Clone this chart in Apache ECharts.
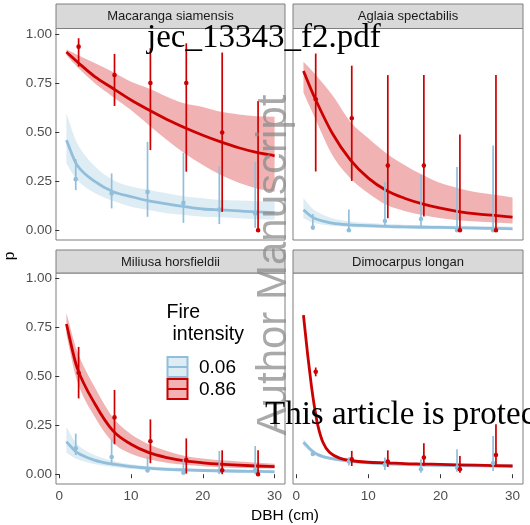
<!DOCTYPE html>
<html>
<head>
<meta charset="utf-8">
<script src="https://cdn.jsdelivr.net/npm/echarts@6/dist/echarts.min.js"></script>
<style>
  html, body { margin: 0; padding: 0; background: #fff; }
  #chart { width: 530px; height: 525px; }
</style>
</head>
<body>
<div id="chart"></div>
<script>
// facets and fire-intensity levels
const SPECIES = ["Macaranga siamensis", "Aglaia spectabilis", "Miliusa horsfieldii", "Dimocarpus longan"];
const LEVELS = ["0.06", "0.86"];

// DBH values where the fitted curves were read
const XS = [1, 2.5, 5, 7.5, 10, 12.5, 15, 17.5, 20, 22.5, 25, 27.5, 30];
const XS_DL = [1, 1.6, 2.1, 2.5, 3, 3.7, 4.6, 6, 7.5, 10, 12.5, 15, 17.5, 20, 22.5, 25, 27.5, 30];
// binned observations (dodged left for 0.06, right for 0.86)
const X_LOW = [2.3, 7.3, 12.3, 17.3, 22.3, 27.3];
const X_HIGH = [2.7, 7.7, 12.7, 17.7, 22.7, 27.7];

// Macaranga siamensis
const MS_LOW_FIT = [0.459, 0.331, 0.247, 0.196, 0.171, 0.149, 0.134, 0.12, 0.108, 0.103, 0.098, 0.093, 0.089];
const MS_LOW_UP = [0.595, 0.443, 0.324, 0.256, 0.222, 0.205, 0.188, 0.171, 0.163, 0.154, 0.151, 0.148, 0.146];
const MS_LOW_LO = [0.34, 0.256, 0.188, 0.149, 0.12, 0.103, 0.086, 0.078, 0.069, 0.066, 0.061, 0.056, 0.053];
const MS_HIGH_FIT = [0.908, 0.858, 0.781, 0.722, 0.663, 0.612, 0.564, 0.522, 0.484, 0.45, 0.42, 0.396, 0.379];
const MS_HIGH_UP = [0.92, 0.894, 0.85, 0.806, 0.756, 0.722, 0.68, 0.645, 0.628, 0.603, 0.59, 0.581, 0.578];
const MS_HIGH_LO = [0.891, 0.832, 0.747, 0.679, 0.612, 0.535, 0.459, 0.391, 0.332, 0.281, 0.242, 0.213, 0.196];
const MS_LOW_P = [0.26, 0.187, 0.195, 0.139, 0.105, 0.085];
const MS_LOW_PLO = [0.204, 0.111, 0.068, 0.037, 0.031, 0.012];
const MS_LOW_PHI = [0.362, 0.289, 0.45, 0.394, 0.327, 0.348];
const MS_HIGH_P = [0.935, 0.79, 0.75, 0.75, 0.498, 0];
const MS_HIGH_PLO = [0.833, 0.633, 0.408, 0.298, 0.093, 0];
const MS_HIGH_PHI = [0.978, 0.898, 0.927, 0.952, 0.905, 0.658];

// Aglaia spectabilis
const AS_LOW_FIT = [0.103, 0.061, 0.036, 0.027, 0.023, 0.019, 0.017, 0.015, 0.014, 0.012, 0.01, 0.009, 0.007];
const AS_LOW_UP = [0.163, 0.103, 0.061, 0.044, 0.036, 0.031, 0.028, 0.026, 0.024, 0.022, 0.021, 0.02, 0.019];
const AS_LOW_LO = [0.061, 0.036, 0.022, 0.015, 0.012, 0.01, 0.008, 0.007, 0.006, 0.005, 0.004, 0.003, 0.002];
const AS_HIGH_FIT = [0.811, 0.68, 0.494, 0.358, 0.265, 0.202, 0.163, 0.134, 0.112, 0.095, 0.083, 0.075, 0.066];
const AS_HIGH_UP = [0.858, 0.8, 0.689, 0.553, 0.468, 0.392, 0.332, 0.282, 0.24, 0.214, 0.193, 0.18, 0.166];
const AS_HIGH_LO = [0.702, 0.579, 0.383, 0.265, 0.188, 0.129, 0.098, 0.078, 0.061, 0.051, 0.044, 0.039, 0.034];
const AS_LOW_P = [0.014, 0, 0.047, 0.057, 0, 0];
const AS_LOW_PLO = [0.002, 0, 0.027, 0.018, 0, 0];
const AS_LOW_PHI = [0.082, 0.105, 0.244, 0.282, 0.322, 0.431];
const AS_HIGH_P = [0.667, 0.57, 0.329, 0.329, 0, 0];
const AS_HIGH_PLO = [0.299, 0.251, 0.061, 0.07, 0, 0];
const AS_HIGH_PHI = [0.9, 0.838, 0.79, 0.79, 0.488, 0.79];

// Miliusa horsfieldii
const MH_LOW_FIT = [0.166, 0.11, 0.071, 0.051, 0.039, 0.031, 0.025, 0.022, 0.019, 0.017, 0.015, 0.014, 0.012];
const MH_LOW_UP = [0.241, 0.153, 0.097, 0.068, 0.051, 0.041, 0.035, 0.031, 0.028, 0.026, 0.024, 0.022, 0.02];
const MH_LOW_LO = [0.11, 0.076, 0.051, 0.037, 0.027, 0.022, 0.017, 0.014, 0.012, 0.01, 0.009, 0.008, 0.007];
const MH_HIGH_FIT = [0.767, 0.543, 0.357, 0.221, 0.153, 0.11, 0.085, 0.068, 0.058, 0.051, 0.046, 0.042, 0.039];
const MH_HIGH_UP = [0.823, 0.628, 0.441, 0.289, 0.204, 0.153, 0.119, 0.093, 0.08, 0.071, 0.065, 0.059, 0.054];
const MH_HIGH_LO = [0.713, 0.475, 0.289, 0.161, 0.105, 0.076, 0.059, 0.048, 0.041, 0.036, 0.032, 0.031, 0.029];
const MH_LOW_P = [0.132, 0.088, 0.02, 0.008, 0.017, 0.02];
const MH_LOW_PLO = [0.098, 0.051, 0.008, 0, 0, 0];
const MH_LOW_PHI = [0.207, 0.178, 0.09, 0.076, 0.119, 0.144];
const MH_HIGH_P = [0.518, 0.29, 0.168, 0.073, 0.02, 0];
const MH_HIGH_PLO = [0.387, 0.153, 0.056, 0.003, 0, 0];
const MH_HIGH_PHI = [0.65, 0.43, 0.28, 0.183, 0.122, 0.122];

// Dimocarpus longan
const DL_LOW_FIT = [0.163, 0.14, 0.122, 0.11, 0.1, 0.09, 0.082, 0.073, 0.066, 0.058, 0.053, 0.05, 0.047, 0.045, 0.044, 0.043, 0.042, 0.042];
const DL_LOW_UP = [0.18, 0.154, 0.134, 0.121, 0.11, 0.099, 0.09, 0.08, 0.072, 0.063, 0.058, 0.055, 0.052, 0.05, 0.049, 0.048, 0.047, 0.047];
const DL_LOW_LO = [0.146, 0.126, 0.11, 0.1, 0.09, 0.081, 0.074, 0.066, 0.06, 0.053, 0.048, 0.045, 0.042, 0.04, 0.039, 0.038, 0.037, 0.037];
const DL_HIGH_FIT = [0.812, 0.605, 0.452, 0.35, 0.248, 0.163, 0.112, 0.082, 0.07, 0.061, 0.058, 0.054, 0.052, 0.05, 0.048, 0.046, 0.044, 0.042];
const DL_HIGH_UP = [0.83, 0.625, 0.47, 0.368, 0.263, 0.175, 0.121, 0.089, 0.076, 0.066, 0.062, 0.058, 0.056, 0.054, 0.052, 0.05, 0.048, 0.046];
const DL_HIGH_LO = [0.794, 0.585, 0.434, 0.333, 0.234, 0.152, 0.104, 0.076, 0.065, 0.056, 0.054, 0.05, 0.048, 0.046, 0.044, 0.042, 0.04, 0.038];
const DL_LOW_P = [0.103, 0.065, 0.048, 0.025, 0.034, 0.056];
const DL_LOW_PLO = [0.095, 0.045, 0.022, 0.008, 0.012, 0.017];
const DL_LOW_PHI = [0.112, 0.087, 0.085, 0.076, 0.127, 0.195];
const DL_HIGH_P = [0.523, 0.076, 0.065, 0.085, 0.025, 0.098];
const DL_HIGH_PLO = [0.5, 0.042, 0.037, 0.042, 0.008, 0.042];
const DL_HIGH_PHI = [0.545, 0.119, 0.122, 0.158, 0.093, 0.255];

const X_TICKS = [0, 10, 20, 30];
const Y_TICKS = [0, 0.25, 0.5, 0.75, 1];

const COL = { low: "#91bfdb", high: "#cc0000" };
const FILL = { low: "rgba(145,191,219,0.3)", high: "rgba(204,0,0,0.3)" };
const SANS = '"Liberation Sans", Arial, sans-serif';
const SERIF = '"Liberation Serif", "Times New Roman", serif';
const BORDER = "#7f7f7f";

const panels = [
  { xs: XS,
    low: { fit: MS_LOW_FIT, up: MS_LOW_UP, lo: MS_LOW_LO, p: MS_LOW_P, plo: MS_LOW_PLO, phi: MS_LOW_PHI },
    high: { fit: MS_HIGH_FIT, up: MS_HIGH_UP, lo: MS_HIGH_LO, p: MS_HIGH_P, plo: MS_HIGH_PLO, phi: MS_HIGH_PHI } },
  { xs: XS,
    low: { fit: AS_LOW_FIT, up: AS_LOW_UP, lo: AS_LOW_LO, p: AS_LOW_P, plo: AS_LOW_PLO, phi: AS_LOW_PHI },
    high: { fit: AS_HIGH_FIT, up: AS_HIGH_UP, lo: AS_HIGH_LO, p: AS_HIGH_P, plo: AS_HIGH_PLO, phi: AS_HIGH_PHI } },
  { xs: XS,
    low: { fit: MH_LOW_FIT, up: MH_LOW_UP, lo: MH_LOW_LO, p: MH_LOW_P, plo: MH_LOW_PLO, phi: MH_LOW_PHI },
    high: { fit: MH_HIGH_FIT, up: MH_HIGH_UP, lo: MH_HIGH_LO, p: MH_HIGH_P, plo: MH_HIGH_PLO, phi: MH_HIGH_PHI } },
  { xs: XS_DL,
    low: { fit: DL_LOW_FIT, up: DL_LOW_UP, lo: DL_LOW_LO, p: DL_LOW_P, plo: DL_LOW_PLO, phi: DL_LOW_PHI },
    high: { fit: DL_HIGH_FIT, up: DL_HIGH_UP, lo: DL_HIGH_LO, p: DL_HIGH_P, plo: DL_HIGH_PLO, phi: DL_HIGH_PHI } },
];

// panel boxes (pixels)
const GRIDS = [
  { left: 56, top: 28.5, width: 229, height: 211.5 },
  { left: 293, top: 28.5, width: 230, height: 211.5 },
  { left: 56, top: 273, width: 229, height: 211 },
  { left: 293, top: 273, width: 230, height: 211 },
];
const STRIP_TOP = [4, 4, 250, 250];

// cubic hermite through the read points, in pixel space
function hermite(pts, first) {
  const n = pts.length;
  const m = pts.map((_, k) => {
    const a = pts[Math.max(0, k - 1)], b = pts[Math.min(n - 1, k + 1)];
    return (b[1] - a[1]) / (b[0] - a[0]);
  });
  let d = (first ? "M" : "L") + pts[0][0] + " " + pts[0][1];
  for (let k = 0; k < n - 1; k++) {
    const h = pts[k + 1][0] - pts[k][0];
    d += " C" + (pts[k][0] + h / 3) + " " + (pts[k][1] + m[k] * h / 3) + " " +
      (pts[k + 1][0] - h / 3) + " " + (pts[k + 1][1] - m[k + 1] * h / 3) + " " +
      pts[k + 1][0] + " " + pts[k + 1][1];
  }
  return d;
}

function curveSeries(i, xs, g, key, kind) {
  return {
    type: "custom", xAxisIndex: i, yAxisIndex: i, silent: true,
    data: xs.map((x, k) => [x, g.fit[k]]),
    encode: { x: 0, y: 1 },
    renderItem(params, api) {
      if (params.dataIndex !== 0) return null;
      if (kind === "ribbon") {
        const up = xs.map((x, k) => api.coord([x, g.up[k]]));
        const lo = xs.map((x, k) => api.coord([x, g.lo[k]])).reverse();
        return { type: "path", shape: { pathData: hermite(up, true) + " " + hermite(lo, false) + " Z" },
          style: { fill: FILL[key], stroke: null } };
      }
      const pts = xs.map((x, k) => api.coord([x, g.fit[k]]));
      return { type: "path", shape: { pathData: hermite(pts, true) },
        style: { fill: null, stroke: COL[key], lineWidth: 2.8 } };
    },
  };
}

function rangeSeries(i, xs, g, key) {
  return {
    type: "custom", xAxisIndex: i, yAxisIndex: i, silent: true,
    data: xs.map((x, k) => [x, g.p[k], g.plo[k], g.phi[k]]),
    encode: { x: 0, y: 1 },
    renderItem(params, api) {
      const x = api.value(0);
      const a = api.coord([x, api.value(2)]), b = api.coord([x, api.value(3)]), p = api.coord([x, api.value(1)]);
      return { type: "group", children: [
        { type: "line", shape: { x1: a[0], y1: a[1], x2: b[0], y2: b[1] }, style: { stroke: COL[key], lineWidth: 1.7 } },
        { type: "circle", shape: { cx: p[0], cy: p[1], r: 2.3 }, style: { fill: COL[key] } },
      ] };
    },
  };
}

const series = [];
panels.forEach((pn, i) => {
  series.push(curveSeries(i, pn.xs, pn.low, "low", "ribbon"));
  series.push(curveSeries(i, pn.xs, pn.high, "high", "ribbon"));
  series.push(curveSeries(i, pn.xs, pn.low, "low", "line"));
  series.push(curveSeries(i, pn.xs, pn.high, "high", "line"));
  series.push(rangeSeries(i, X_LOW, pn.low, "low"));
  series.push(rangeSeries(i, X_HIGH, pn.high, "high"));
});

// text placed by its baseline: zrender "top" puts the baseline about 0.8em below y
function baselineText(text, x, baseline, size, family, fill, z) {
  return { type: "text", z, style: { text, x, y: baseline - 0.8 * size, verticalAlign: "top", textVerticalAlign: "top",
    font: size + "px " + family, fill } };
}

const graphic = [];
GRIDS.forEach((g, i) => {
  const h = g.top - STRIP_TOP[i];
  graphic.push({ type: "rect", z: 10, shape: { x: g.left, y: STRIP_TOP[i], width: g.width, height: h },
    style: { fill: "#d9d9d9", stroke: BORDER, lineWidth: 1 } });
  graphic.push({ type: "text", z: 11, style: { text: SPECIES[i], x: g.left + g.width / 2, y: STRIP_TOP[i] + h / 2 + 0.5,
    align: "center", verticalAlign: "middle", textAlign: "center", textVerticalAlign: "middle",
    font: "13px " + SANS, fill: "#1a1a1a" } });
});

// axis titles
graphic.push({ type: "text", z: 11, style: { text: "DBH (cm)", x: 285, y: 516, align: "center", verticalAlign: "middle",
  textAlign: "center", textVerticalAlign: "middle", font: "15.5px " + SANS, fill: "#000" } });
graphic.push({ type: "text", z: 11, x: 10, y: 256, rotation: Math.PI / 2, style: { text: "p", x: 0, y: 0,
  align: "center", verticalAlign: "middle", textAlign: "center", textVerticalAlign: "middle", font: "15.5px " + SANS, fill: "#000" } });

// legend inside the Miliusa panel
graphic.push(baselineText("Fire", 166.5, 318, 19.5, SANS, "#000", 20));
graphic.push(baselineText("intensity", 172.5, 340, 19.5, SANS, "#000", 20));
["low", "high"].forEach((key, k) => {
  const y0 = 357 + k * 22;
  graphic.push({ type: "rect", z: 20, shape: { x: 167.5, y: y0, width: 20, height: 20 },
    style: { fill: FILL[key], stroke: COL[key], lineWidth: 2 } });
  graphic.push({ type: "line", z: 20, shape: { x1: 167.5, y1: y0 + 10, x2: 187.5, y2: y0 + 10 },
    style: { stroke: COL[key], lineWidth: 2 } });
  graphic.push({ type: "text", z: 20, style: { text: LEVELS[k], x: 199, y: y0 + 10.5, verticalAlign: "middle",
    textVerticalAlign: "middle", font: "19px " + SANS, fill: "#000" } });
});

// watermark overlays
graphic.push({ type: "text", z: 90, x: 274, y: 265, rotation: Math.PI / 2, style: { text: "Author Manuscript", x: 0, y: 0,
  align: "center", verticalAlign: "middle", textAlign: "center", textVerticalAlign: "middle",
  font: "42px " + SANS, fill: "rgba(140,140,140,0.75)" } });
graphic.push(baselineText("jec_13343_f2.pdf", 147, 48, 33, SERIF, "#000", 95));
graphic.push(baselineText("This article is protected by copyright. All rights reserved", 265, 425, 33, SERIF, "#000", 95));

const chart = echarts.init(document.getElementById("chart"), null, { renderer: "canvas" });
chart.setOption({
  animation: false,
  backgroundColor: "#fff",
  grid: GRIDS.map((g) => ({ ...g, show: true, borderColor: BORDER, borderWidth: 1, backgroundColor: "#fff", containLabel: false })),
  xAxis: GRIDS.map((g, i) => ({
    type: "value", gridIndex: i, min: -0.45, max: 31.45,
    axisLine: { show: false }, splitLine: { show: false },
    axisTick: { show: i >= 2, length: 4, customValues: X_TICKS, lineStyle: { color: "#333" } },
    axisLabel: { show: i >= 2, customValues: X_TICKS, color: "#4d4d4d", fontSize: 13.5, fontFamily: SANS, margin: 5 },
  })),
  yAxis: GRIDS.map((g, i) => ({
    type: "value", gridIndex: i, min: -0.05, max: 1.0275,
    axisLine: { show: false }, splitLine: { show: false },
    axisTick: { show: i % 2 === 0, length: 4, customValues: Y_TICKS, lineStyle: { color: "#333" } },
    axisLabel: { show: i % 2 === 0, customValues: Y_TICKS, color: "#4d4d4d", fontSize: 13.5, fontFamily: SANS, margin: 4,
      formatter: (v) => v.toFixed(2) },
  })),
  series,
  graphic,
});
</script>
</body>
</html>
